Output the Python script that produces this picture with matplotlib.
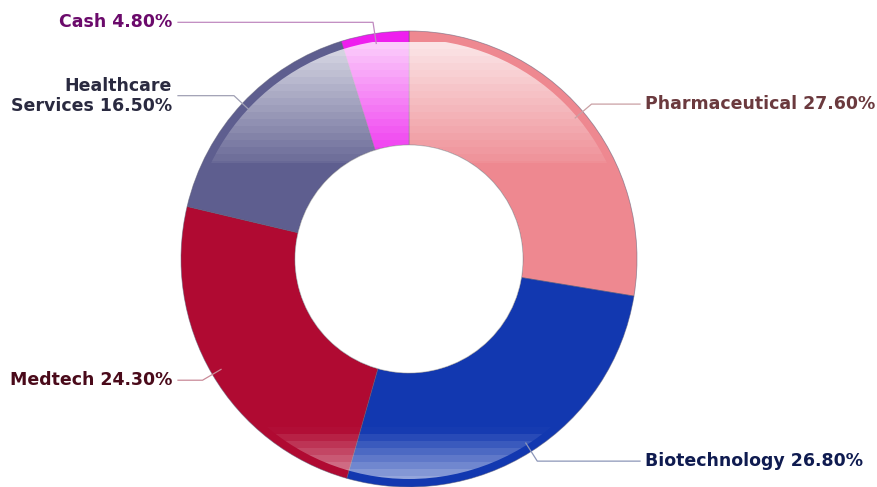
import numpy as np
import matplotlib
matplotlib.use('Agg')
import matplotlib.pyplot as plt
from matplotlib.patches import Circle

# data
labels = ['Pharmaceutical', 'Biotechnology', 'Medtech', 'Healthcare\nServices', 'Cash']
values = [27.6, 26.8, 24.3, 16.5, 4.8]
colors = ['#EE8890', '#1238B0', '#B00A32', '#5E5E8F', '#EE1EEE']
text_colors = ['#6B3A3E', '#0F1B50', '#4A0A1A', '#2A2A40', '#6B0A6B']
line_colors = ['#C9A0A4', '#8C96B8', '#C98A98', '#A0A0B4', '#C08AC0']

W, H = 877, 487
cx, cy = 409, H - 259
R = 228
R_in = 114

fig = plt.figure(figsize=(W / 100, H / 100), dpi=100)
ax = fig.add_axes([0, 0, 1, 1])

wedges, _ = ax.pie(values, colors=colors, startangle=90, counterclock=False,
                   radius=R, center=(cx, cy), frame=True,
                   wedgeprops=dict(width=R - R_in, edgecolor=(0.35, 0.35, 0.45, 0.55), linewidth=0.6))
ax.set_xlim(0, W)
ax.set_ylim(0, H)
ax.set_aspect('equal')
ax.axis('off')

# glossy sheen: banded white gradient, top and bottom
ys = np.arange(H)  # pixel rows from top
alpha = np.zeros(H)
top0, top1 = 38, 162
m = (ys >= top0) & (ys <= top1)
alpha[m] = 0.06 + 0.74 * (1 - (ys[m] - top0) / (top1 - top0))
bot0, bot1 = 425, 482
m = (ys >= bot0) & (ys <= bot1)
alpha[m] = 0.62 * ((ys[m] - bot0) / (bot1 - bot0))
# quantize in bands
band = 7
alpha = np.array([alpha[(i // band) * band] if alpha[i] > 0 else 0 for i in range(H)])
img = np.ones((H, 1, 4))
img[:, 0, 3] = alpha
im = ax.imshow(img, extent=[0, W, 0, H], origin='upper', aspect='auto', zorder=3,
               interpolation='nearest')
clip = Circle((cx, cy), R - 8, transform=ax.transData, facecolor='none', edgecolor='none')
ax.add_patch(clip)
im.set_clip_path(clip)

# hole
ax.add_patch(Circle((cx, cy), R_in, facecolor='white', edgecolor=(0.6, 0.6, 0.6, 0.6),
                    linewidth=0.5, zorder=4))

# leader lines and labels
cum = np.cumsum([0] + values[:-1])
for i, (lab, v) in enumerate(zip(labels, values)):
    mid = (cum[i] + v / 2) / 100 * 2 * np.pi
    sx, sy = np.sin(mid), np.cos(mid)
    x0, y0 = cx + 218 / 228 * R * sx, cy + 218 / 228 * R * sy
    x1, y1 = cx + 1.05 * R * sx, cy + 1.05 * R * sy
    right = sx > 0
    x2 = 640 if right else 178
    ax.plot([x0, x1, x2], [y0, y1, y1], color=line_colors[i], lw=0.9, zorder=5)
    ax.text(x2 + (5 if right else -6), y1, f'{lab} {v:.2f}%',
            ha='left' if right else 'right', va='center',
            fontsize=12.5, fontweight='bold', color=text_colors[i],
            family='DejaVu Sans', linespacing=1.15, zorder=6)

fig.savefig('out.png', dpi=100, facecolor='white')
